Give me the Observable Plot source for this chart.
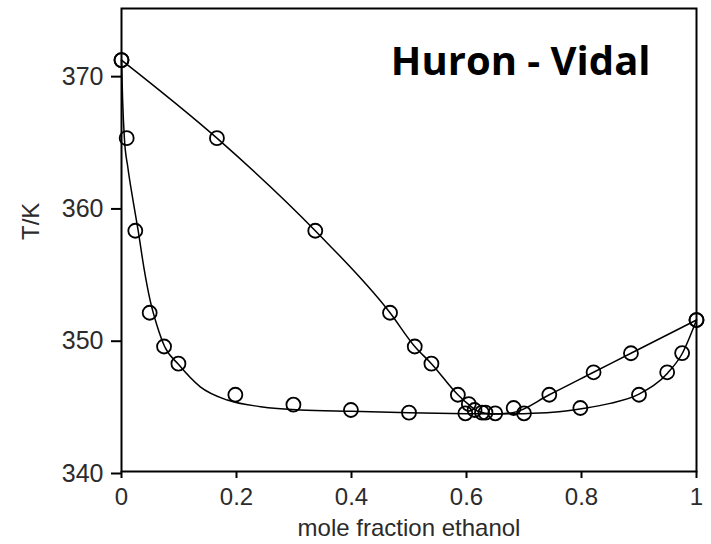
<!DOCTYPE html>
<html>
<head>
<meta charset="utf-8">
<script src="https://cdn.jsdelivr.net/npm/d3@7"></script>
<script src="https://cdn.jsdelivr.net/npm/@observablehq/plot@0.6"></script>
<style>
  html, body { margin: 0; padding: 0; background: #fff; }
</style>
</head>
<body>
<div id="chart"></div>
<script>
// Experimental liquid-phase points (x, T)
const liquidX = [0, 0.009, 0.024, 0.049, 0.074, 0.099, 0.198, 0.299, 0.399, 0.5, 0.598, 0.627, 0.65, 0.70, 0.798, 0.90, 0.949, 0.975, 1];
const liquidT = [371.1, 365.2, 358.2, 352.0, 349.45, 348.15, 345.8, 345.05, 344.65, 344.45, 344.4, 344.45, 344.4, 344.4, 344.8, 345.8, 347.5, 348.95, 351.45];
// Experimental vapour-phase points (y, T)
const vaporX = [0, 0.166, 0.337, 0.467, 0.51, 0.539, 0.585, 0.604, 0.614, 0.633, 0.682, 0.744, 0.821, 0.886, 1];
const vaporT = [371.1, 365.2, 358.2, 352.0, 349.45, 348.15, 345.8, 345.1, 344.65, 344.45, 344.8, 345.8, 347.5, 348.94, 351.45];
// Huron-Vidal model: bubble curve
const bubbleX = [0, 0.002, 0.005, 0.011, 0.02, 0.029, 0.039, 0.05, 0.062, 0.075, 0.099, 0.137, 0.184, 0.242, 0.311, 0.4, 0.5, 0.6, 0.65, 0.7, 0.75, 0.8, 0.85, 0.9, 0.95, 0.975, 1];
const bubbleT = [371.1, 368.0, 365.2, 363.0, 360.5, 358.2, 355.4, 352.9, 351.0, 349.45, 348.1, 346.4, 345.4, 344.9, 344.65, 344.55, 344.45, 344.37, 344.35, 344.37, 344.47, 344.75, 345.15, 345.85, 347.45, 348.9, 351.45];
// Huron-Vidal model: dew curve
const dewX = [0, 0.166, 0.337, 0.467, 0.51, 0.539, 0.585, 0.604, 0.62, 0.645, 0.68, 0.744, 0.821, 0.886, 1];
const dewT = [371.1, 365.2, 358.2, 352.0, 349.45, 348.15, 345.8, 345.05, 344.55, 344.35, 344.45, 345.8, 347.5, 348.94, 351.45];

const xTicks = [0, 0.2, 0.4, 0.6, 0.8, 1];
const xTickLabels = ["0", "0.2", "0.4", "0.6", "0.8", "1"];
const yTicks = [340, 350, 360, 370];
const yTickLabels = ["340", "350", "360", "370"];
const titleText = "Huron - Vidal";
const xLabel = "mole fraction ethanol";
const yLabel = "T/K";

const zip = (xs, ys) => xs.map((x, i) => ({x, T: ys[i]}));
const liquid = zip(liquidX, liquidT);
const vapor = zip(vaporX, vaporT);
const bubble = zip(bubbleX, bubbleT);
const dew = zip(dewX, dewT);

const textColor = "#2b2b2b";

const chart = Plot.plot({
  width: 711,
  height: 544,
  marginLeft: 121,
  marginRight: 15,
  marginTop: 8,
  marginBottom: 73,
  style: {fontFamily: "'Liberation Sans', Arial, sans-serif", background: "#fff"},
  x: {domain: [0, 1]},
  y: {domain: [340, 375]},
  marks: [
    Plot.line(bubble, {x: "x", y: "T", curve: "monotone-x", stroke: "#000", strokeWidth: 1.5}),
    Plot.line(dew, {x: "x", y: "T", curve: "monotone-x", stroke: "#000", strokeWidth: 1.5}),
    Plot.dot(liquid, {x: "x", y: "T", r: 7, stroke: "#000", strokeWidth: 1.8, fill: "none"}),
    Plot.dot(vapor, {x: "x", y: "T", r: 7, stroke: "#000", strokeWidth: 1.8, fill: "none"}),
    Plot.axisX({ticks: xTicks, tickFormat: (d, i) => xTickLabels[i], tickSize: 7, tickPadding: 9, fontSize: 24, label: null, stroke: "#000", strokeWidth: 2, fill: textColor}),
    Plot.axisY({ticks: yTicks, tickFormat: (d, i) => yTickLabels[i], tickSize: 10, tickPadding: 8, fontSize: 25, label: null, stroke: "#000", strokeWidth: 2, fill: textColor, dy: 2}),
    Plot.frame({stroke: "#000", strokeWidth: 2}),
    Plot.text([xLabel], {frameAnchor: "bottom", dy: 64, fontSize: 24, fill: textColor}),
    Plot.text([yLabel], {frameAnchor: "left", dx: -90, rotate: -90, fontSize: 24, fill: textColor}),
    Plot.text([titleText], {frameAnchor: "top-right", textAnchor: "end", lineAnchor: "top", dx: -46, dy: 38, fontSize: 40, fontWeight: "bold", fontFamily: "'Open Sans', sans-serif", fill: "#000"})
  ]
});
document.getElementById("chart").appendChild(chart);
</script>
</body>
</html>
